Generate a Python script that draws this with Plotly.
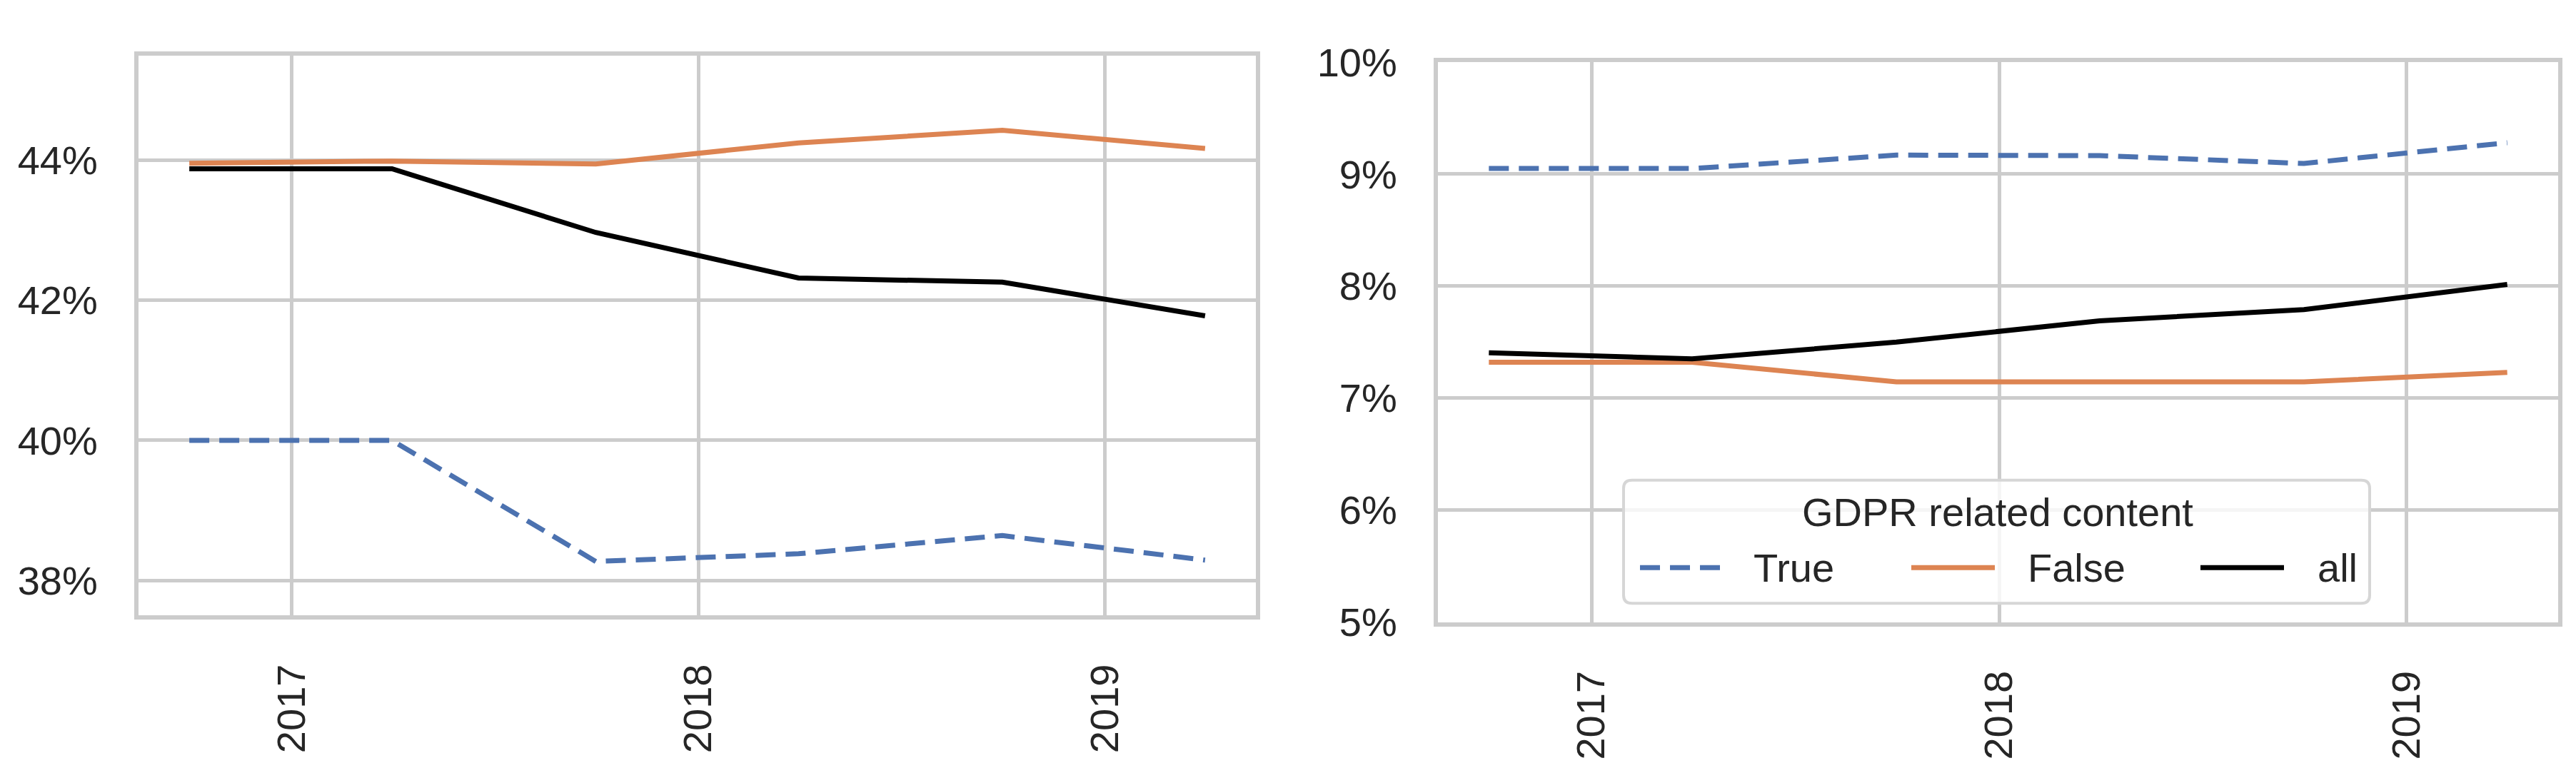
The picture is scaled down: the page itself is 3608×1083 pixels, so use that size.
import plotly.graph_objects as go
from datetime import datetime

# ---- data ----
periods = ["2016-10-01", "2017-04-01", "2017-10-01", "2018-04-01", "2018-10-01", "2019-04-01"]

left_true = [40.0, 40.0, 38.27, 38.38, 38.64, 38.29]
left_false = [43.96, 43.99, 43.95, 44.25, 44.43, 44.17]
left_all = [43.88, 43.88, 42.97, 42.32, 42.26, 41.78]

right_true = [9.05, 9.05, 9.17, 9.165, 9.095, 9.28]
right_false = [7.32, 7.32, 7.145, 7.145, 7.145, 7.23]
right_all = [7.405, 7.35, 7.50, 7.69, 7.79, 8.015]

series_names = ["True", "False", "all"]
legend_title = "GDPR related content"
left_yticks = [38, 40, 42, 44]
right_yticks = [5, 6, 7, 8, 9, 10]
year_ticks = ["2017-01-01", "2018-01-01", "2019-01-01"]

# ---- styles ----
W, H = 3608, 1083
colors = {"True": "#4c72b0", "False": "#dd8452", "all": "#000000"}
dashes = {"True": "28px,14px", "False": "solid", "all": "solid"}
FONT = "Liberation Sans, Arial, Helvetica, sans-serif"
TXT = "#262626"
GRID = "#cccccc"
FS = 56
LW = 7

d0 = datetime.fromisoformat(periods[0])
d1 = datetime.fromisoformat(periods[-1])
span = d1 - d0
xr = [(d0 - span * 0.05).isoformat(), (d1 + span * 0.05).isoformat()]

fig = go.Figure()
for name, yl, yr in zip(series_names, [left_true, left_false, left_all], [right_true, right_false, right_all]):
    fig.add_trace(go.Scatter(x=periods, y=yl, mode="lines", name=name, xaxis="x", yaxis="y",
                             line=dict(color=colors[name], width=LW, dash=dashes[name]),
                             showlegend=False))
    fig.add_trace(go.Scatter(x=periods, y=yr, mode="lines", name=name, xaxis="x2", yaxis="y2",
                             line=dict(color=colors[name], width=LW, dash=dashes[name]),
                             showlegend=False))

xcommon = dict(type="date", range=xr, tickvals=year_ticks, ticktext=[t[:4] for t in year_ticks],
               tickangle=-90,
               showgrid=True, gridcolor=GRID, gridwidth=4.5, showline=True, linecolor=GRID,
               linewidth=6, mirror=True, zeroline=False, ticks="", ticklabelstandoff=40,
               tickfont=dict(size=FS, color=TXT, family=FONT))
ycommon = dict(showgrid=True, gridcolor=GRID, gridwidth=4.5, showline=True, linecolor=GRID,
               linewidth=6, mirror=True, zeroline=False, ticks="",
               ticklabelstandoff=40, tickfont=dict(size=FS, color=TXT, family=FONT))

# ---- manual legend (matplotlib style) in pixel -> paper coords ----
def px(x):
    return x / W

def py(y):
    return 1 - y / H

bx0, bx1, by0, by1, r = 2266, 3311, 673, 856, 12
path = (f"M {px(bx0 + r)},{py(by0)} L {px(bx1 - r)},{py(by0)} "
        f"Q {px(bx1)},{py(by0)} {px(bx1)},{py(by0 + r)} L {px(bx1)},{py(by1 - r)} "
        f"Q {px(bx1)},{py(by1)} {px(bx1 - r)},{py(by1)} L {px(bx0 + r)},{py(by1)} "
        f"Q {px(bx0)},{py(by1)} {px(bx0)},{py(by1 - r)} L {px(bx0)},{py(by0 + r)} "
        f"Q {px(bx0)},{py(by0)} {px(bx0 + r)},{py(by0)} Z")
shapes = [dict(type="path", xref="paper", yref="paper", path=path, layer="above",
               fillcolor="rgba(255,255,255,0.8)", line=dict(color="#d6d6d6", width=4))]
annotations = [dict(text=legend_title, xref="paper", yref="paper", x=px(2790), y=py(720),
                    xanchor="center", yanchor="middle", showarrow=False,
                    font=dict(size=FS, color=TXT, family=FONT))]
sample_x = {"True": (2289, 2401, 2446), "False": (2669, 2786, 2830), "all": (3074, 3191, 3236)}
ly = 803
for name in series_names:
    xa, xb, xt = sample_x[name]
    shapes.append(dict(type="line", xref="paper", yref="paper", layer="above",
                       x0=px(xa), x1=px(xb), y0=py(ly), y1=py(ly),
                       line=dict(color=colors[name], width=LW, dash=dashes[name])))
    annotations.append(dict(text=name, xref="paper", yref="paper", x=px(xt), y=py(ly),
                            xanchor="left", yanchor="middle", showarrow=False,
                            font=dict(size=FS, color=TXT, family=FONT)))

fig.update_layout(
    width=W, height=H,
    margin=dict(l=0, r=0, t=0, b=0),
    paper_bgcolor="white", plot_bgcolor="white",
    font=dict(family=FONT, size=FS, color=TXT),
    showlegend=False,
    xaxis=dict(domain=[186 / W, 1751 / W], anchor="y", **xcommon),
    yaxis=dict(domain=[1 - 874 / H, 1 - 41 / H], anchor="x", range=[37.5, 45.5],
               tickvals=left_yticks, ticktext=[f"{v}%" for v in left_yticks], **ycommon),
    xaxis2=dict(domain=[2006 / W, 3575 / W], anchor="y2", **xcommon),
    yaxis2=dict(domain=[1 - 884 / H, 1 - 51 / H], anchor="x2", range=[5, 10],
                tickvals=right_yticks, ticktext=[f"{v}%" for v in right_yticks], **ycommon),
    shapes=shapes,
    annotations=annotations,
)

fig.write_html("out.html")
